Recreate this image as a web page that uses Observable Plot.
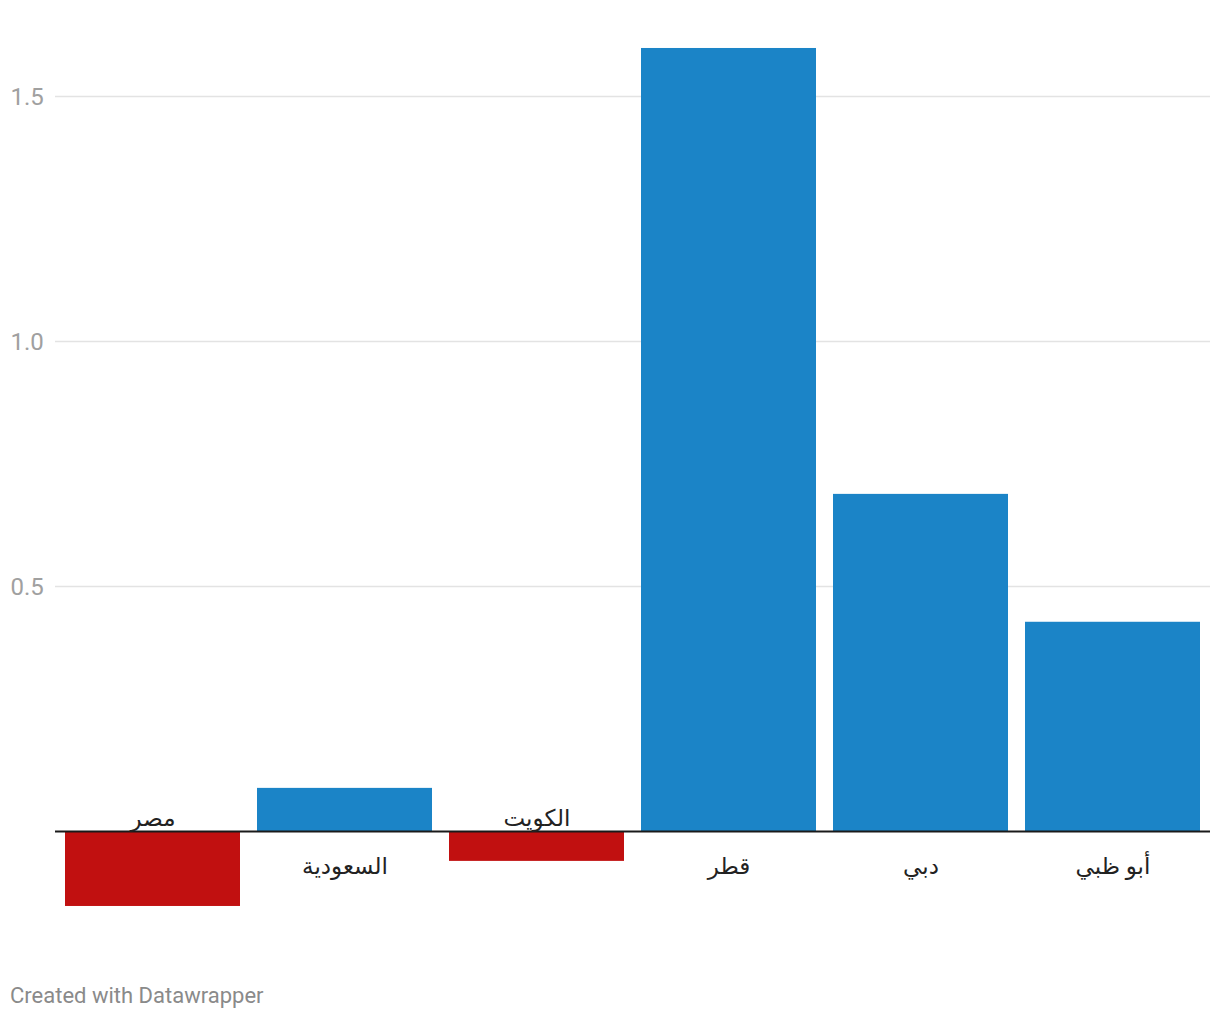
<!DOCTYPE html>
<html>
<head>
<meta charset="utf-8">
<script src="https://cdn.jsdelivr.net/npm/d3@7"></script>
<script src="https://cdn.jsdelivr.net/npm/@observablehq/plot@0.6"></script>
<style>
  html, body { margin: 0; padding: 0; background: #fff; }
  body { width: 1220px; height: 1020px; position: relative; font-family: Roboto, "Noto Sans", "DejaVu Sans", sans-serif; }
  #chart { position: absolute; left: 0; top: 0; }
  #footer { position: absolute; left: 10px; top: 983px; font-size: 22px; color: #8a8a8a; font-family: Roboto, sans-serif; }
</style>
</head>
<body>
<div id="chart"></div>
<div id="footer">Created with Datawrapper</div>
<script>
const categories = ["مصر", "السعودية", "الكويت", "قطر", "دبي", "أبو ظبي"];
const values = [-0.153, 0.088, -0.061, 1.598, 0.688, 0.427];
const yTicks = [0.5, 1.0, 1.5];
const yTickLabels = ["0.5", "1.0", "1.5"];

const data = categories.map((c, i) => ({category: c, value: values[i]}));
const ticks = yTicks.map((t, i) => ({value: t, label: yTickLabels[i]}));

const chart = Plot.plot({
  width: 1220,
  height: 960,
  marginLeft: 55,
  marginRight: 10,
  marginTop: 22.5,
  marginBottom: 31,
  style: {fontFamily: 'Roboto, "Noto Sans", "DejaVu Sans", sans-serif', background: "#fff"},
  x: {domain: categories, paddingInner: 0.087, paddingOuter: 0.045, axis: null},
  y: {domain: [-0.2, 1.65], axis: null},
  marks: [
    Plot.ruleY(ticks, {y: "value", stroke: "#e3e3e3", strokeWidth: 1.5}),
    Plot.text(ticks, {y: "value", text: "label", frameAnchor: "left", dx: -45, dy: 1, textAnchor: "start", fontSize: 24, fill: "#a0a0a0"}),
    Plot.barY(data, {x: "category", y: "value", fill: d => d.value < 0 ? "#c11010" : "#1b84c7"}),
    Plot.ruleY([0], {stroke: "#1a1a1a", strokeWidth: 2}),
    Plot.text(data, {x: "category", y: 0, text: "category", fontSize: 23, fill: "#222",
      filter: d => d.value >= 0, dy: 35, lineAnchor: "middle"}),
    Plot.text(data, {x: "category", y: 0, text: "category", fontSize: 23, fill: "#222",
      filter: d => d.value < 0, dy: -13, lineAnchor: "middle"})
  ]
});
document.getElementById("chart").appendChild(chart);
</script>
</body>
</html>
